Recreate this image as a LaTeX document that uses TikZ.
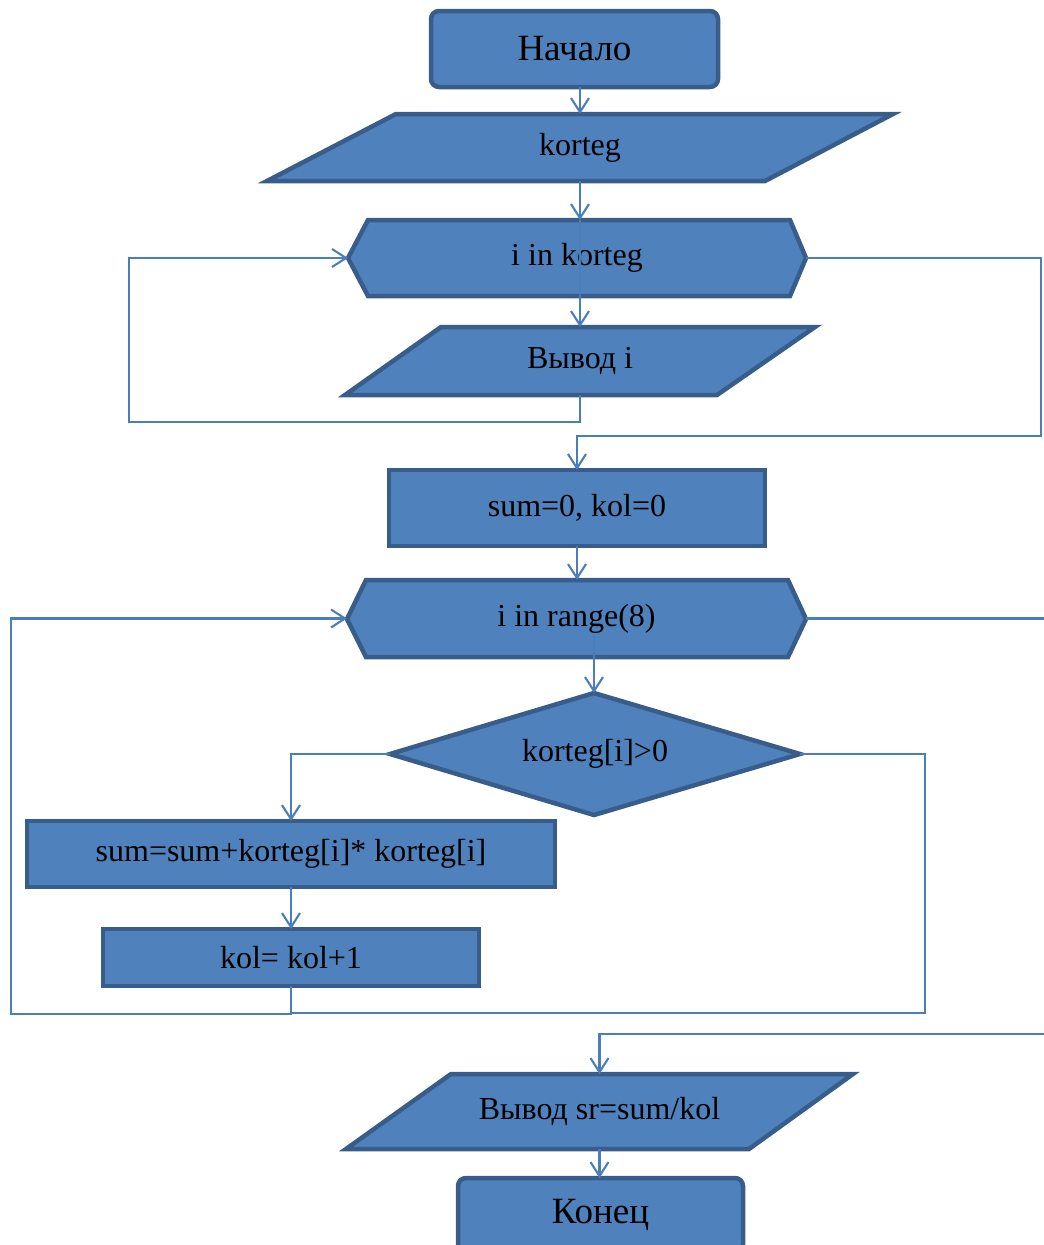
\documentclass[tikz,border=0pt]{standalone}
\usepackage{fontspec}
\setmainfont{Liberation Serif}
\usetikzlibrary{arrows.meta}
\definecolor{fillblue}{HTML}{4F81BD}
\definecolor{edgeblue}{HTML}{385D8A}
\definecolor{lineblue}{HTML}{4A7EBB}
\begin{document}
\begin{tikzpicture}[x=1pt,y=-1pt,
 shapeline/.style={draw=edgeblue, line width=4.5pt, fill=fillblue, line join=miter},
 txt/.style={inner sep=0pt, outer sep=0pt, font=\fontsize{32}{38}\selectfont},
 bigtxt/.style={inner sep=0pt, outer sep=0pt, font=\fontsize{37}{44}\selectfont},
 plainbox/.style={shapeline, rectangle, outer sep=0pt},
 roundbox/.style={shapeline, rounded corners=8pt, outer sep=0pt},
 con/.style={draw=lineblue, line width=2.1pt},
 arr/.style={con, -{Straight Barb[length=14pt,width=18pt]}},
]
\useasboundingbox (0,0) rectangle (1044,1245);

% shapes drawn as paths
\draw[shapeline] (396,114) -- (893,114) -- (765,181) -- (267,181) -- cycle;
\draw[shapeline] (348,258) -- (368,220) -- (790,220) -- (806,258) -- (790,296) -- (368,296) -- cycle;
\draw[shapeline] (441,327) -- (815,327) -- (717,395) -- (345,395) -- cycle;
\draw[shapeline] (347,619) -- (366,580) -- (788,580) -- (806,619) -- (788,657) -- (366,657) -- cycle;
\draw[shapeline] (594,693) -- (800,754) -- (594,815) -- (390,754) -- cycle;
\draw[shapeline] (451,1074) -- (853,1074) -- (749,1149) -- (346,1149) -- cycle;

% nodes
\node[roundbox, bigtxt, minimum width=287pt, minimum height=76pt] (start) at (574.5,49) {Начало};
\node[txt, minimum width=626pt, minimum height=67pt] (in1) at (580,147.5) {korteg};
\node[txt, minimum width=458pt, minimum height=76pt] (hex1) at (577,258) {i in korteg};
\node[txt, minimum width=470pt, minimum height=68pt] (out1) at (580,361) {Вывод i};
\node[plainbox, txt, minimum width=376pt, minimum height=76pt] (init) at (577,508) {sum=0, kol=0};
\node[txt, minimum width=459pt, minimum height=77pt] (hex2) at (576.5,618.5) {i in range(8)};
\node[txt, minimum width=410pt, minimum height=122pt] (cond) at (595,754) {korteg[i]>0};
\node[plainbox, txt, minimum width=528pt, minimum height=66pt] (sumbox) at (291,854) {sum=sum+korteg[i]* korteg[i]};
\node[plainbox, txt, minimum width=376pt, minimum height=57pt] (kolbox) at (291,957.5) {kol= kol+1};
\node[txt, minimum width=507pt, minimum height=75pt] (out2) at (599.5,1111.5) {Вывод sr=sum/kol};
\node[roundbox, bigtxt, minimum width=285pt, minimum height=74pt] (end) at (600.5,1215) {Конец};

% helper coordinates
\coordinate (L1) at (129,422);
\coordinate (R1) at (1041,436);
\coordinate (h2s) at (594,635);
\coordinate (L2) at (11,1014);
\coordinate (R2) at (925,1013);
\coordinate (R3) at (1060,1034);

% connectors
\draw[arr] (start.south -| in1.north) -- (in1.north);
\draw[arr] (in1.south) -- (in1.south |- hex1.north);
\draw[arr] (in1.south |- hex1.north) -- (out1.north);
\draw[arr] (out1.south) |- (L1) |- (hex1.west);
\draw[arr] (hex1.east) -| (R1) -| (init.north);
\draw[arr] (init.south) -- (init.south |- hex2.north);
\draw[arr] (h2s) -- (h2s |- cond.north);
\draw[arr] (cond.west) -| (sumbox.north);
\draw[arr] (sumbox.south) -- (kolbox.north);
\draw[arr] (kolbox.south) |- (L2) |- (hex2.west);
\draw[con] (cond.east) -| (R2) -- (R2 -| kolbox.south);
\draw[arr] (hex2.east) -| (R3) -| (out2.north);
\draw[arr] (out2.south) -- (out2.south |- end.north);
\end{tikzpicture}
\end{document}
